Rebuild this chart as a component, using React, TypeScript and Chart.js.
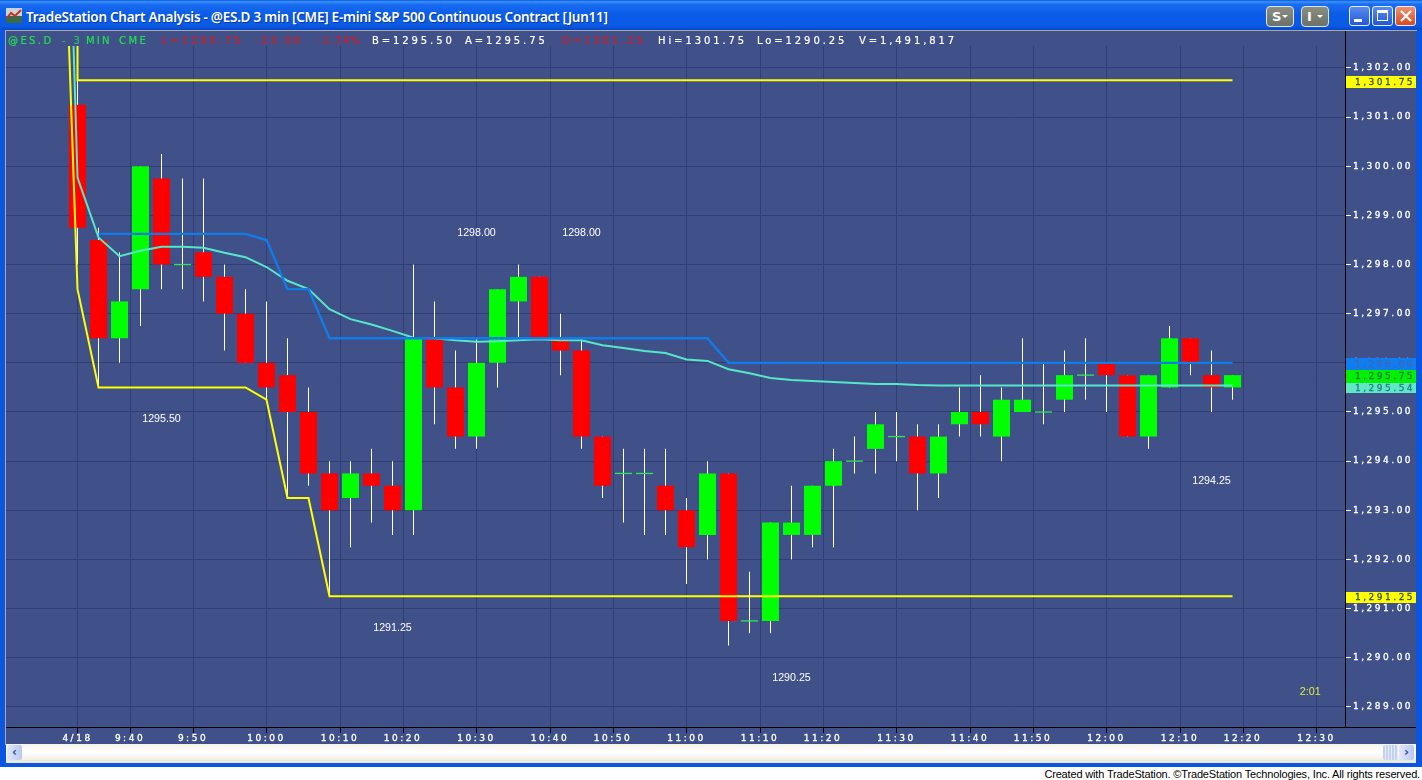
import React, { useEffect, useRef } from "react";
import { Chart, registerables } from "chart.js";

Chart.register(...registerables);

const opens = [1301.25,1298.5,1296.5,1297.5,1299.75,1298,1298.25,1297.75,1297,1296,1295.75,1295,1293.75,1293.25,1293.75,1293.5,1293,1296.5,1295.5,1294.5,1296,1297.25,1297.75,1296.5,1296.25,1294.5,1293.75,1293.75,1293.5,1293,1292.5,1293.75,1290.75,1290.75,1292.5,1292.5,1293.5,1294,1294.25,1294.5,1294.5,1293.75,1294.75,1295,1294.5,1295,1295,1295.25,1295.75,1296,1295.75,1294.5,1295.5,1296.5,1295.75,1295.5];
const highs = [1301.75,1298.75,1298.25,1300,1300.25,1299.75,1299.75,1298,1297.5,1297.25,1296.5,1295.5,1294,1294,1294.25,1294,1298,1297.25,1296.25,1296.5,1297.5,1298,1297.75,1297,1296.5,1294.5,1294.25,1294.25,1294.25,1293.25,1294,1293.75,1291.75,1292.75,1293.5,1293.5,1294.25,1294.5,1295,1295,1294.75,1294.75,1295.5,1295.75,1295.5,1296.5,1296,1296.25,1296.5,1296,1295.75,1295.75,1296.75,1296.5,1296.25,1295.75];
const lows = [1298,1295.5,1296,1296.75,1297.5,1297.5,1297.25,1296.25,1296,1295.25,1293.25,1293.5,1291.25,1292.25,1292.75,1292.5,1292.5,1294.75,1294.25,1294.25,1295.5,1296.5,1296.5,1295.75,1294.25,1293.25,1292.75,1292.5,1292.5,1291.5,1292,1290.25,1290.5,1290.5,1292,1292.25,1292.25,1293.75,1293.75,1294,1293,1293.25,1294.5,1294.5,1294,1295,1294.75,1295,1295.25,1295,1294.5,1294.25,1295.5,1295.75,1295,1295.25];
const closes = [1298.75,1296.5,1297.25,1300,1298,1298,1297.75,1297,1296,1295.5,1295,1293.75,1293,1293.75,1293.5,1293,1296.5,1295.5,1294.5,1296,1297.5,1297.75,1296.5,1296.25,1294.5,1293.5,1293.75,1293.75,1293,1292.25,1293.75,1290.75,1290.75,1292.75,1292.75,1293.5,1294,1294,1294.75,1294.5,1293.75,1294.5,1295,1294.75,1295.25,1295.25,1295,1295.75,1295.75,1295.75,1294.5,1295.75,1296.5,1296,1295.5,1295.75];

const highLineX = [0, 0, 55];
const highLineY = [1303, 1301.75, 1301.75];
const lowLineX = [-1, 0, 1, 8, 9, 10, 11, 12, 55];
const lowLineY = [1309.75, 1297.5, 1295.5, 1295.5, 1295.25, 1293.25, 1293.25, 1291.25, 1291.25];
const midLineX = [1, 8, 9, 10, 11, 12, 30, 31, 55];
const midLineY = [1298.625, 1298.625, 1298.5, 1297.5, 1297.5, 1296.5, 1296.5, 1296, 1296];
const avgLineX = [-1,0,1,2,3,4,5,6,7,8,9,10,11,12,13,14,15,16,17,18,19,20,21,22,23,24,25,26,27,28,29,30,31,32,33,34,35,36,37,38,39,40,41,55];
const avgLineY = [1314,1299.77,1298.55,1298.17,1298.28,1298.36,1298.36,1298.34,1298.24,1298.15,1297.95,1297.67,1297.5,1297.09,1296.89,1296.78,1296.65,1296.51,1296.5,1296.46,1296.43,1296.44,1296.46,1296.48,1296.46,1296.46,1296.36,1296.3,1296.24,1296.2,1296.07,1296.04,1295.87,1295.79,1295.69,1295.65,1295.63,1295.61,1295.59,1295.57,1295.57,1295.55,1295.54,1295.54];

const yTickValues = [1289,1290,1291,1292,1293,1294,1295,1296,1297,1298,1299,1300,1301,1302];
const xTickValues = [0,2.5,5.5,9,12.5,15.5,19,22.5,25.5,29,32.5,35.5,39,42.5,45.5,49,52.5,55.5,59];
const xTickLabels = ["4/18","9:40","9:50","10:00","10:10","10:20","10:30","10:40","10:50","11:00","11:10","11:20","11:30","11:40","11:50","12:00","12:10","12:20","12:30"];

const noteTexts = ["1295.50","1298.00","1298.00","1291.25","1290.25","1294.25","2:01"];
const noteX = [4, 19, 24, 15, 34, 54, 58.7];
const notePrice = [1294.86, 1298.64, 1298.64, 1290.61, 1289.59, 1293.6, 1289.3];

const tagPrices = [1301.75, 1296, 1295.75, 1295.54, 1291.25];
const tagTexts = ["1,301.75", "1,296.00", "1,295.75", "1,295.54", "1,291.25"];

const titleText = "TradeStation Chart Analysis - @ES.D 3 min [CME] E-mini S&P 500 Continuous Contract [Jun11]";
const headerTexts = ["@ES.D","- 3","MIN","CME","L=1295.75","-23.00","-1.74%","B=1295.50","A=1295.75","O=1301.25","Hi=1301.75","Lo=1290.25","V=1,491,817"];
const footerText = "Created with TradeStation. ©TradeStation Technologies, Inc. All rights reserved.";

// styles (page pixels)
const headerLefts = [8,62,86,119,162,255,318,372,465,562,658,757,859];
const headerSpacing = [2.4,2.4,2.2,2.4,2.9,2.6,1.3,2.9,2.9,2.9,2.9,2.9,2.9];
const headerColors = ["#22e050","#22c060","#22e050","#22e050","#d01e28","#d01e28","#d01e28","#ffffff","#ffffff","#d01e28","#ffffff","#ffffff","#ffffff"];
const tagBoxes = [
  { top: 76, h: 12, bg: "#ffff00", fg: "#35503a" },
  { top: 358, h: 12, bg: "#0f7cf0", fg: "#3f68b0" },
  { top: 370, h: 13, bg: "#00f000", fg: "#1c7a52" },
  { top: 383, h: 10, bg: "#5ee8c4", fg: "#2a7d8a" },
  { top: 592, h: 11, bg: "#ffff00", fg: "#35503a" },
];

const BG = "#405089";
const GRID = "#303e73";
const CANVAS_LEFT = 6;
const CANVAS_TOP = 30;
const CANVAS_W = 1410;
const CANVAS_H = 714;
const LABEL_FONT = '9px "DejaVu Sans"';
const SPACING = "2.5px";

const chromePlugin = {
  id: "chrome",
  beforeDraw(chart: any) {
    const c = chart.ctx;
    c.save();
    c.fillStyle = BG;
    c.fillRect(0, 0, chart.width, chart.height);
    c.restore();
    (c as any).letterSpacing = SPACING;
  },
  afterDraw(chart: any) {
    const c = chart.ctx;
    const xs = chart.scales.x;
    const ys = chart.scales.y;
    c.save();
    // bottom rule continues under the price column
    c.strokeStyle = "#000";
    c.lineWidth = 1;
    c.beginPath();
    c.moveTo(chart.chartArea.right, chart.chartArea.bottom + 0.5);
    c.lineTo(chart.width, chart.chartArea.bottom + 0.5);
    c.stroke();
    // price tags
    tagPrices.forEach((_, i) => {
      const b = tagBoxes[i];
      const top = b.top - CANVAS_TOP;
      c.fillStyle = b.bg;
      c.fillRect(chart.chartArea.right + 1, top, chart.width - chart.chartArea.right - 1, b.h);
      c.fillStyle = b.fg;
      c.strokeStyle = b.fg;
      c.lineWidth = 0.3;
      c.font = LABEL_FONT;
      (c as any).letterSpacing = SPACING;
      c.textAlign = "left";
      c.textBaseline = "middle";
      c.fillText(tagTexts[i], chart.chartArea.right + 10, top + b.h / 2 + 0.5);
      c.strokeText(tagTexts[i], chart.chartArea.right + 10, top + b.h / 2 + 0.5);
    });
    // notes
    (c as any).letterSpacing = "0px";
    c.font = '10.7px "Liberation Sans"';
    c.textAlign = "center";
    c.textBaseline = "middle";
    noteTexts.forEach((t, i) => {
      c.fillStyle = t === "2:01" ? "#dcec3c" : "#ffffff";
      c.fillText(t, xs.getPixelForValue(noteX[i]), ys.getPixelForValue(notePrice[i]));
    });
    c.restore();
  },
};

function pts(xs: number[], ys: number[]) {
  return xs.map((x, i) => ({ x, y: ys[i] }));
}

function Btn({ left, w, text }: { left: number; w: number; text: string }) {
  return (
    <div style={{ position: "absolute", left, top: 6, width: w, height: 21, boxSizing: "border-box", border: "1px solid #dfe8f0", borderRadius: 4, background: "linear-gradient(#8a8f84,#6b7068)", color: "#fff", font: 'bold 13px "DejaVu Sans"', lineHeight: "19px", paddingLeft: 5 }}>
      {text}
      <span style={{ position: "absolute", right: 5, top: 8, width: 0, height: 0, borderLeft: "3px solid transparent", borderRight: "3px solid transparent", borderTop: "3px solid #fff" }} />
    </div>
  );
}

function WinBtn({ left, bg, children }: { left: number; bg: string; children?: React.ReactNode }) {
  return (
    <div style={{ position: "absolute", left, top: 6, width: 21, height: 20, boxSizing: "border-box", border: "1px solid #e8f0fa", borderRadius: 3, background: bg }}>{children}</div>
  );
}

export default function App() {
  const ref = useRef<HTMLCanvasElement | null>(null);

  useEffect(() => {
    document.body.style.margin = "0";
    const idx = opens.map((_, i) => i);
    const dojiIdx = idx.filter((i) => opens[i] === closes[i]);
    const chart = new Chart(ref.current as HTMLCanvasElement, {
      type: "bar",
      data: {
        datasets: [
          { type: "bar", label: "wick", order: 6, data: idx.map((i) => ({ x: i, y: [lows[i], highs[i]] })), backgroundColor: "#fffff2", barThickness: 1, grouped: false, inflateAmount: 0 },
          { type: "line", label: "doji", order: 5, showLine: false, data: dojiIdx.map((i) => ({ x: i, y: opens[i] })), pointStyle: "line", pointRadius: 8.5, pointBorderColor: "#2ce850", pointBorderWidth: 1.3 },
          { type: "bar", label: "body", order: 4, data: idx.filter((i) => opens[i] !== closes[i]).map((i) => ({ x: i, y: [opens[i], closes[i]] })), backgroundColor: (ctx: any) => { const r = ctx.raw; return r && r.y[1] > r.y[0] ? "#00ff00" : "#ff0000"; }, barThickness: 17, grouped: false, inflateAmount: 0 },
          { type: "line", label: "low", order: 3, data: pts(lowLineX, lowLineY), borderColor: "#ffff00", borderWidth: 2, pointRadius: 0, tension: 0 },
          { type: "line", label: "high", order: 3, data: pts(highLineX, highLineY), borderColor: "#ffff00", borderWidth: 2, pointRadius: 0, tension: 0 },
          { type: "line", label: "avg", order: 2, data: pts(avgLineX, avgLineY), borderColor: "#55e8c8", borderWidth: 2, pointRadius: 0, tension: 0 },
          { type: "line", label: "mid", order: 1, data: pts(midLineX, midLineY), borderColor: "#0f7ce8", borderWidth: 2.4, pointRadius: 0, tension: 0 },
        ] as any,
      },
      plugins: [chromePlugin],
      options: {
        animation: false,
        responsive: false,
        events: [],
        layout: { autoPadding: false, padding: 0 },
        plugins: { legend: { display: false }, tooltip: { enabled: false } },
        scales: {
          x: {
            type: "linear",
            offset: false,
            min: -71.5 / 21,
            max: (1339 - 71.5) / 21,
            grid: { offset: false, color: GRID, tickColor: "#000", tickLength: 6, lineWidth: 1 },
            border: { color: "#000", width: 1 },
            afterBuildTicks: (a: any) => { a.ticks = xTickValues.map((value) => ({ value })); },
            afterFit: (a: any) => { a.height = 17; a.paddingLeft = 0; a.paddingRight = 0; },
            ticks: { autoSkip: false, maxRotation: 0, padding: 0, color: "#fff", textStrokeColor: "#fff", textStrokeWidth: 0.3, font: { family: "DejaVu Sans", size: 9 }, callback: (_v: any, i: number) => xTickLabels[i] },
          },
          y: {
            type: "linear",
            position: "right",
            min: 1295 - 315 / 49.15,
            max: 1295 + 382 / 49.15,
            grid: { color: GRID, tickColor: "#fff", tickLength: 6, lineWidth: 1 },
            border: { color: "#000", width: 1 },
            afterBuildTicks: (a: any) => { a.ticks = yTickValues.map((value) => ({ value })); },
            afterFit: (a: any) => { a.width = 71; a.paddingTop = 0; a.paddingBottom = 0; },
            ticks: { padding: 2, color: "#fff", textStrokeColor: "#fff", textStrokeWidth: 0.3, font: { family: "DejaVu Sans", size: 9 }, callback: (v: any) => "1," + String(v).slice(1) + ".00" },
          },
        },
      } as any,
    });
    return () => chart.destroy();
  }, []);

  return (
    <div style={{ position: "absolute", left: 0, top: 0, width: 1422, height: 780, background: "#fff", overflow: "hidden" }}>
      {/* window frame */}
      <div style={{ position: "absolute", left: 0, top: 0, width: 1422, height: 767, background: "#0a56e0" }} />
      <div style={{ position: "absolute", left: 0, top: 0, width: 1422, height: 30, background: "linear-gradient(#0a55e0 0,#3a94fa 6%,#1a6cf0 14%,#0a5ce8 50%,#0a5ae6 85%,#0648c8 100%)" }} />
      {/* icon */}
      <svg style={{ position: "absolute", left: 6, top: 8 }} width="16" height="15">
        <rect x="0" y="0" width="16" height="15" fill="#c8d4d8" />
        <rect x="0" y="8" width="16" height="7" fill="#3a6a48" />
        <polyline points="1,10 5,5 9,8 15,2" fill="none" stroke="#c83020" strokeWidth="2" />
      </svg>
      <div style={{ position: "absolute", left: 26, top: 7, color: "#fff", font: '600 13.5px "Noto Sans"', letterSpacing: "-0.26px", lineHeight: "20px", whiteSpace: "nowrap", textShadow: "1px 1px 0 #0a3a9a" }}>{titleText}</div>
      <Btn left={1266} w={28} text="S" />
      <Btn left={1301} w={28} text="I" />
      <WinBtn left={1349} bg="linear-gradient(#5a8cf0,#2258d8)"><div style={{ position: "absolute", left: 4, top: 12, width: 8, height: 3, background: "#fff" }} /></WinBtn>
      <WinBtn left={1372} bg="linear-gradient(#5a8cf0,#2258d8)"><div style={{ position: "absolute", left: 4, top: 3, width: 11, height: 11, boxSizing: "border-box", border: "1px solid #fff", borderTop: "3px solid #fff" }} /></WinBtn>
      <WinBtn left={1395} bg="linear-gradient(#f09070,#d84a20)">
        <svg style={{ position: "absolute", left: 4, top: 3 }} width="12" height="12"><path d="M1,1 L11,11 M11,1 L1,11" stroke="#fff" strokeWidth="2.2" /></svg>
      </WinBtn>

      <canvas ref={ref} width={CANVAS_W} height={CANVAS_H} style={{ position: "absolute", left: CANVAS_LEFT, top: CANVAS_TOP, width: CANVAS_W, height: CANVAS_H, display: "block" }} />

      {/* header strip: the plot starts below it */}
      <div style={{ position: "absolute", left: 6, top: 30, width: 1338, height: 16, background: BG }} />
      <div style={{ position: "absolute", left: 5, top: 30, width: 1412, height: 1, background: "#a8a8a8" }} />
      <div style={{ position: "absolute", left: 5, top: 30, width: 1, height: 715, background: "#a8a8a8" }} />
      {headerTexts.map((t, i) => (
        <span key={i} style={{ position: "absolute", left: headerLefts[i], top: 35, color: headerColors[i], font: '10px "DejaVu Sans"', letterSpacing: headerSpacing[i] + "px", lineHeight: "12px", whiteSpace: "nowrap", WebkitTextStroke: "0.2px " + headerColors[i] } as any}>{t}</span>
      ))}

      {/* scrollbar */}
      <div style={{ position: "absolute", left: 6, top: 744, width: 1410, height: 16, background: "linear-gradient(#f4f2ec,#ffffff 50%,#f0eee6)" }} />
      <div style={{ position: "absolute", left: 6, top: 760, width: 1410, height: 3, background: "#ece9d8" }} />
      <div style={{ position: "absolute", left: 7, top: 745, width: 15, height: 15, background: "linear-gradient(90deg,#dfe8fc,#b8c8f0)", borderRadius: 2, color: "#35508a", font: 'bold 12px "DejaVu Sans"', lineHeight: "14px", textAlign: "center" }}>‹</div>
      <div style={{ position: "absolute", left: 1383, top: 745, width: 15, height: 15, background: "repeating-linear-gradient(90deg,#c4d2f2 0 2px,#e6ecfb 2px 3px)", borderRadius: 2 }} />
      <div style={{ position: "absolute", left: 1399, top: 745, width: 15, height: 15, background: "linear-gradient(90deg,#dfe8fc,#b8c8f0)", borderRadius: 2, color: "#35508a", font: 'bold 12px "DejaVu Sans"', lineHeight: "14px", textAlign: "center" }}>›</div>

      {/* footer */}
      <div style={{ position: "absolute", right: 2, top: 767, color: "#000", font: '11px "Liberation Sans"', letterSpacing: "-0.16px", lineHeight: "14px", whiteSpace: "nowrap" }}>{footerText}</div>
    </div>
  );
}
